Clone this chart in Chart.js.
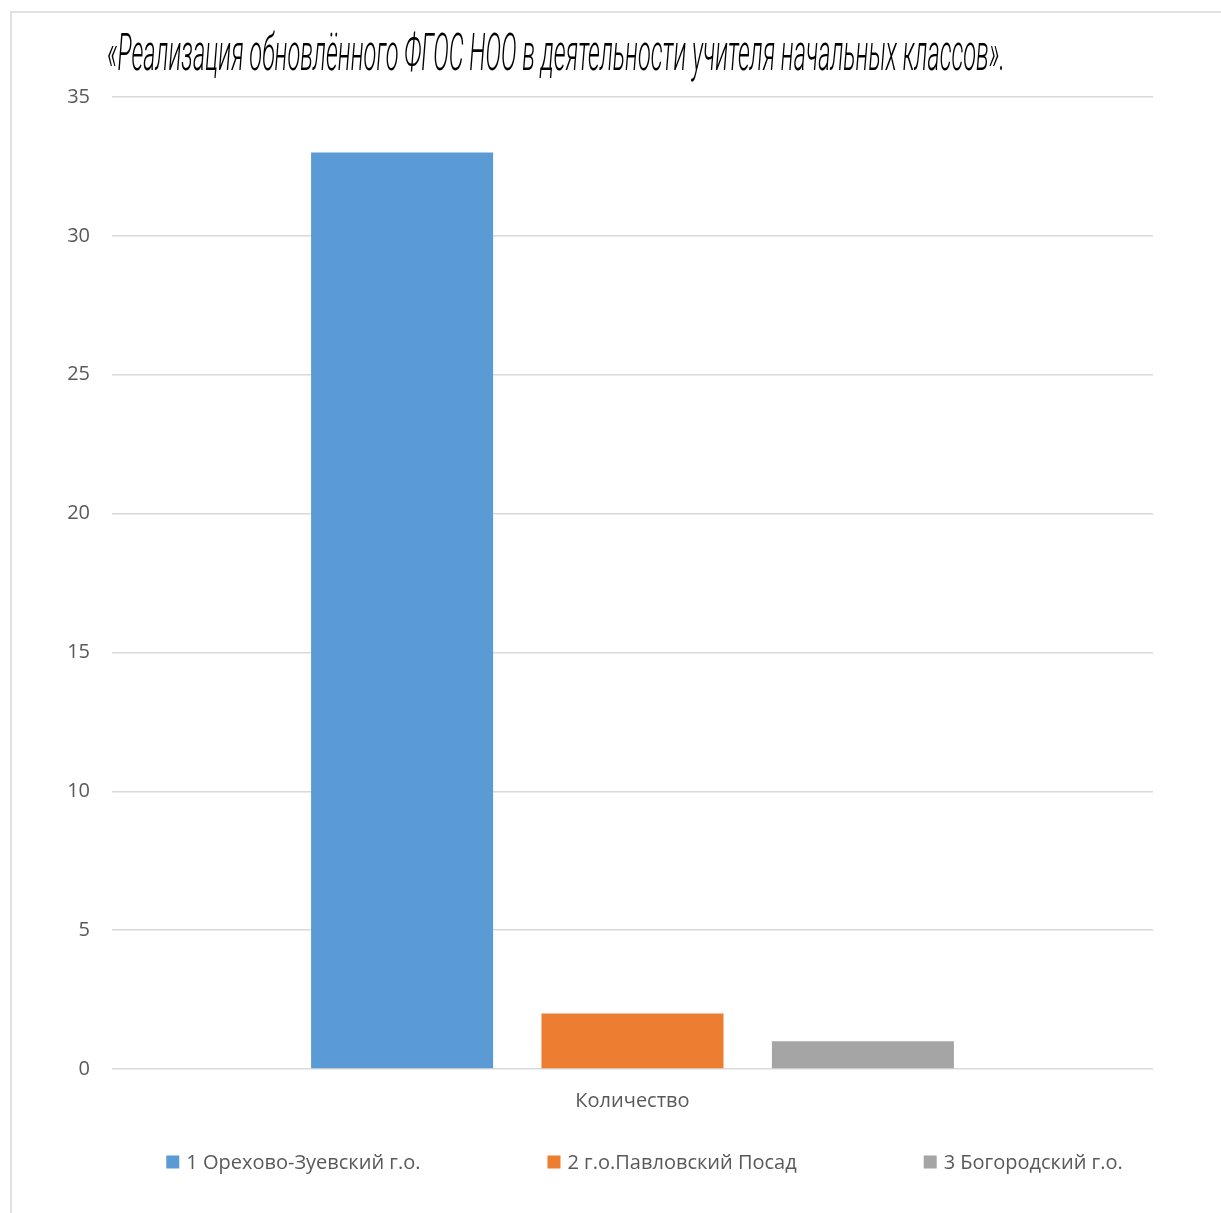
<!DOCTYPE html>
<html>
<head>
<meta charset="utf-8">
<script src="https://cdn.jsdelivr.net/npm/chart.js@4.4.1/dist/chart.umd.min.js"></script>
<style>
  body { margin: 0; background: #fff; }
  #wrap { position: relative; width: 1221px; height: 1213px; overflow: hidden; }
  #frame { position: absolute; left: 10px; top: 11px; width: 1300px; height: 1300px; border: 2px solid #e0e0e0; box-sizing: border-box; }
  #title { position: absolute; left: 107px; top: 22px; font: italic 300 52px Roboto, "Liberation Sans", sans-serif; white-space: nowrap; transform-origin: 0 0; color: #000; }
  #chart { position: absolute; left: 0; top: 0; }
</style>
</head>
<body>
<div id="wrap">
  <div id="frame"></div>
  <canvas id="chart" width="1221" height="1213"></canvas>
  <div id="title"></div>
</div>
<script>
const titleText = "«Реализация обновлённого ФГОС НОО в деятельности учителя начальных классов».";
const categories = ["Количество"];
const seriesNames = ["1 Орехово-Зуевский г.о.", "2 г.о.Павловский Посад", "3 Богородский г.о."];
const seriesValues = [33, 2, 1];
const seriesColors = ["#5b9bd5", "#ed7d31", "#a5a5a5"];
const yMin = 0;
const yMax = 35;
const yStep = 5;

const textColor = "#595959";
const fontFamily = "'Open Sans', sans-serif";

// title: condensed italic, squeezed to the reference width
const titleEl = document.getElementById("title");
titleEl.textContent = titleText;
const titleScale = 898 / titleEl.scrollWidth;
titleEl.style.transform = `scaleX(${titleScale})`;

// legend drawn at the bottom with wide gaps like the original
const bottomLegend = {
    id: "bottomLegend",
    afterDraw(chart) {
        const ctx = chart.ctx;
        const box = 13, gap = 7, spacing = 127;
        ctx.save();
        ctx.font = "20px " + fontFamily;
        ctx.textBaseline = "middle";
        const items = chart.data.datasets.map(ds => ({
            label: ds.label,
            color: ds.backgroundColor,
            w: box + gap + ctx.measureText(ds.label).width
        }));
        const total = items.reduce((s, it) => s + it.w, 0) + spacing * (items.length - 1);
        let x = (chart.chartArea.left + chart.chartArea.right) / 2 + 12 - total / 2;
        const y = chart.height - 51;
        items.forEach(it => {
            ctx.fillStyle = it.color;
            ctx.fillRect(x, y - box / 2, box, box);
            ctx.fillStyle = textColor;
            ctx.fillText(it.label, x + box + gap, y + 1);
            x += it.w + spacing;
        });
        ctx.restore();
    }
};

const ctx = document.getElementById("chart").getContext("2d");
new Chart(ctx, {
    type: "bar",
    data: {
        labels: categories,
        datasets: seriesNames.map((name, i) => ({
            label: name,
            data: [seriesValues[i]],
            backgroundColor: seriesColors[i],
            borderWidth: 0,
            barPercentage: 0.79,
            categoryPercentage: 0.664
        }))
    },
    options: {
        responsive: false,
        animation: false,
        layout: { padding: { top: 97, right: 68, bottom: 88, left: 0 } },
        plugins: {
            legend: { display: false },
            title: { display: false },
            tooltip: { enabled: false }
        },
        scales: {
            x: {
                grid: { display: false },
                border: { display: false },
                ticks: { color: textColor, font: { family: fontFamily, size: 20 }, padding: 12 }
            },
            y: {
                min: yMin,
                max: yMax,
                ticks: { stepSize: yStep, color: textColor, font: { family: fontFamily, size: 20 }, padding: 22 },
                grid: { color: "#d9d9d9", lineWidth: 1.5, drawTicks: false },
                border: { display: false },
                afterFit(scale) { scale.width = 112; }
            }
        }
    },
    plugins: [bottomLegend]
});
</script>
</body>
</html>
